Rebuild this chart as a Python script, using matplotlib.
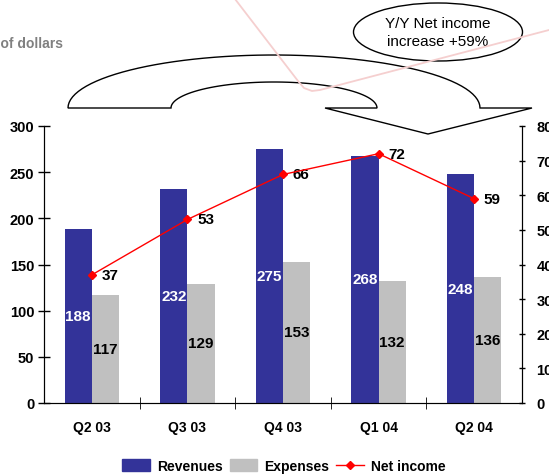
import matplotlib
matplotlib.use("Agg")
import matplotlib.pyplot as plt
import numpy as np
from matplotlib.path import Path
from matplotlib.patches import PathPatch, Ellipse, Patch
from matplotlib.lines import Line2D

plt.rcParams["font.family"] = ["Liberation Sans", "DejaVu Sans"]
plt.rcParams["font.weight"] = "bold"

quarters = ["Q2 03", "Q3 03", "Q4 03", "Q1 04", "Q2 04"]
revenues = [188, 232, 275, 268, 248]
expenses = [117, 129, 153, 132, 136]
net_income = [37, 53, 66, 72, 59]

BLUE = "#333399"
GREY = "#C0C0C0"
RED = "#FF0000"

W, H = 549, 477
fig = plt.figure(figsize=(W / 100, H / 100), dpi=100)


def px(x, y):
    # pixel position (top-left origin) -> figure fraction
    return x / W, 1 - y / H


def half_ellipse(x0, x1, y_base, height, reverse=False):
    t = np.linspace(np.pi, 0, 60)
    cx, rx = (x0 + x1) / 2, (x1 - x0) / 2
    pts = [px(cx + rx * np.cos(a), y_base - height * np.sin(a)) for a in t]
    return pts[::-1] if reverse else pts


ax = fig.add_axes([44 / W, 1 - 404 / H, 478 / W, 277 / H])
x = np.arange(len(quarters))
bw = 0.285
ax.bar(x - bw / 2, revenues, bw, color=BLUE, zorder=2)
ax.bar(x + bw / 2, expenses, bw, color=GREY, zorder=2)

for xi, r, e in zip(x, revenues, expenses):
    ax.text(xi - bw / 2, r / 2, str(r), color="white", ha="center", va="center",
            fontsize=11, fontweight="bold", zorder=3)
    ax.text(xi + bw / 2, e / 2, str(e), color="black", ha="center", va="center",
            fontsize=11, fontweight="bold", zorder=3)

ax.set_xlim(-0.5, len(quarters) - 0.5)
ax.set_ylim(0, 300)
ax.set_yticks(range(0, 301, 50))
ax.set_xticks(x)
ax.set_xticklabels(quarters)
ax.set_xticks(np.arange(0.5, len(quarters) - 1, 1), minor=True)
ax.tick_params(axis="x", which="major", length=0, pad=12, labelsize=10)
ax.tick_params(axis="x", which="minor", direction="inout", length=8)
ax.tick_params(axis="y", direction="inout", length=8, width=1, pad=3, labelsize=10.5)
ax.spines["top"].set_visible(False)
ax.spines["bottom"].set_color("#555555")

ax2 = ax.twinx()
ax2.plot(x, net_income, color=RED, lw=1, marker="D", markersize=4, zorder=4)
for xi, v in zip(x, net_income):
    ax2.annotate(str(v), (xi, v), xytext=(7, 0), textcoords="offset points",
                 ha="left", va="center", fontsize=11, fontweight="bold")
ax2.set_ylim(0, 80)
ax2.set_yticks(range(0, 81, 10))
ax2.tick_params(axis="y", direction="inout", length=5, width=1, pad=8, labelsize=10.5)
ax2.spines["top"].set_visible(False)

fig.text(*px(63, 44), "Millions of dollars", ha="right", va="center",
         fontsize=10, fontweight="bold", color="#808080")

# curved U-turn arrow above the plot
outer = half_ellipse(68, 480, 109, 53)
inner = half_ellipse(171, 377, 109, 26, reverse=True)
verts = outer + [px(532, 109), px(428, 135), px(325, 109)] + inner + [outer[0]]
codes = [Path.MOVETO] + [Path.LINETO] * (len(verts) - 2) + [Path.CLOSEPOLY]
fig.add_artist(PathPatch(Path(verts, codes), facecolor="none", edgecolor="black",
                         lw=1.0, transform=fig.transFigure, zorder=1))

cx, cy = px(438, 33)
fig.add_artist(Ellipse((cx, cy), 169 / W, 58 / H, facecolor="white",
                       edgecolor="black", lw=1.0, transform=fig.transFigure, zorder=2))
fig.text(cx, cy, "Y/Y Net income\nincrease +59%", ha="center", va="center",
         fontsize=11, fontweight="normal", linespacing=1.35, zorder=3)

# faint decorative line crossing the header
deco = np.array([(235, 0), (298, 82), (304, 89), (312, 92), (320, 91), (549, 31)])
fig.add_artist(Line2D(deco[:, 0] / W, 1 - deco[:, 1] / H, color="#F5CFCF",
                      lw=1.3, transform=fig.transFigure, zorder=4))

handles = [Patch(color=BLUE), Patch(color=GREY),
           Line2D([], [], color=RED, lw=1, marker="D", markersize=4)]
fig.legend(handles, ["Revenues", "Expenses", "Net income"], loc="center",
           bbox_to_anchor=px(284, 467), ncol=3, frameon=False, fontsize=10,
           handlelength=2.0, handletextpad=0.5, columnspacing=0.5,
           handleheight=0.9)

fig.savefig("out.png", dpi=100)
